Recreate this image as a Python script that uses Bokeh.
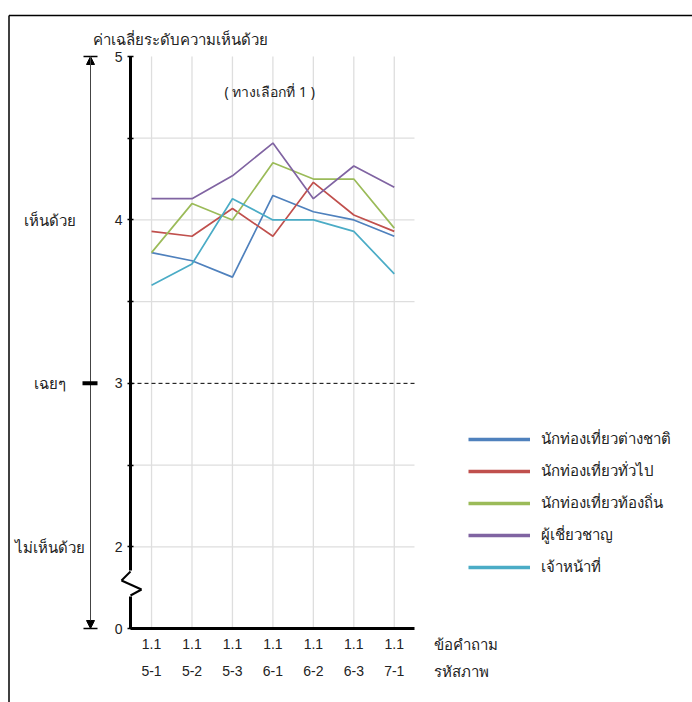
from bokeh.plotting import figure
from bokeh.models import (Range1d, LinearAxis, FixedTicker, Label, Arrow,
                          NormalHead, TeeHead, Legend, LegendItem)
from bokeh.embed import file_html
from bokeh.resources import INLINE

# ---------------- data ----------------
questions = ["1.1", "1.1", "1.1", "1.1", "1.1", "1.1", "1.1"]
codes = ["5-1", "5-2", "5-3", "6-1", "6-2", "6-3", "7-1"]
series_names = ["นักท่องเที่ยวต่างชาติ", "นักท่องเที่ยวทั่วไป", "นักท่องเที่ยวท้องถิ่น",
                "ผู้เชี่ยวชาญ", "เจ้าหน้าที่"]
foreign = [3.80, 3.75, 3.65, 4.15, 4.05, 4.00, 3.90]
general = [3.93, 3.90, 4.07, 3.90, 4.23, 4.03, 3.93]
local = [3.80, 4.10, 4.00, 4.35, 4.25, 4.25, 3.95]
expert = [4.13, 4.13, 4.27, 4.47, 4.13, 4.33, 4.20]
staff = [3.60, 3.73, 4.13, 4.00, 4.00, 3.93, 3.67]
series_colors = ["#4F81BD", "#C0504D", "#9BBB59", "#8064A2", "#4BACC6"]
y_ticks = [1.5, 2, 2.5, 3, 3.5, 4, 4.5, 5]
y_tick_labels = ["0", "2", "", "3", "", "4", "", "5"]
grid_y = [2, 2.5, 3.5, 4, 4.5]
neutral = 3
scale_labels = ["เห็นด้วย", "เฉยๆ", "ไม่เห็นด้วย"]
scale_values = [4, 3, 2]

THAI = "Noto Sans"
NUM = "Liberation Sans"
TXT = "#222222"

W, H = 692, 702
# plot-area placement (pixels) used to set the ranges
X0, X1 = -0.52, 6.5
Y0, Y1 = 1.5, 5.0
FL, FR, FT, FB = 130, 414, 56, 628
SX = (FR - FL) / (X1 - X0)
SY = (FB - FT) / (Y1 - Y0)


def px(v):
    return X0 + (v - FL) / SX


def py(v):
    return Y1 - (v - FT) / SY


x = list(range(len(codes)))
NAN = float("nan")

p = figure(width=W, height=H, title=None,
           x_range=Range1d(px(0), px(W)), y_range=Range1d(py(H), py(0)),
           output_backend="svg", toolbar_location=None,
           x_axis_type=None, y_axis_type=None, min_border=0)
p.outline_line_color = None
p.background_fill_color = "white"
p.border_fill_color = "white"
p.xgrid.visible = False
p.ygrid.visible = False

# grid lines inside the plot area
p.segment(x0=x, y0=[Y0] * len(x), x1=x, y1=[Y1] * len(x),
          line_color="#dedede", line_width=1.3)
p.segment(x0=[X0] * len(grid_y), y0=grid_y, x1=[X1] * len(grid_y), y1=grid_y,
          line_color="#dedede", line_width=1.3)
# dashed neutral line
p.segment(x0=[X0], y0=[neutral], x1=[X1], y1=[neutral],
          line_color="black", line_width=1, line_dash="4 3")

# axes
yaxis = LinearAxis(ticker=FixedTicker(ticks=y_ticks), fixed_location=X0, bounds=(Y0, Y1),
                   major_label_overrides={t: l for t, l in zip(y_ticks, y_tick_labels)},
                   axis_line_width=3, axis_line_color="black",
                   major_tick_in=3, major_tick_out=3, major_tick_line_width=1.5,
                   major_tick_line_color="black", minor_tick_line_color=None,
                   major_label_standoff=5, major_label_text_font=NUM,
                   major_label_text_font_size="14px", major_label_text_color=TXT)
p.add_layout(yaxis, "left")

xaxis1 = LinearAxis(ticker=FixedTicker(ticks=x), fixed_location=Y0, bounds=(X0, X1),
                    major_label_overrides={i: q for i, q in zip(x, questions)},
                    axis_line_width=3, axis_line_color="black",
                    major_tick_in=0, major_tick_out=0, minor_tick_line_color=None,
                    major_tick_line_color=None,
                    major_label_standoff=10, major_label_text_font=NUM,
                    major_label_text_font_size="14px", major_label_text_color=TXT)
xaxis2 = LinearAxis(ticker=FixedTicker(ticks=x), fixed_location=Y0, bounds=(X0, X1),
                    major_label_overrides={i: c for i, c in zip(x, codes)},
                    axis_line_color=None,
                    major_tick_in=0, major_tick_out=0, minor_tick_line_color=None,
                    major_tick_line_color=None,
                    major_label_standoff=37, major_label_text_font=NUM,
                    major_label_text_font_size="14px", major_label_text_color=TXT)
p.add_layout(xaxis1, "below")
p.add_layout(xaxis2, "below")

# series lines
all_series = [foreign, general, local, expert, staff]
items = []
for name, vals, col in zip(series_names, all_series, series_colors):
    p.line(x=x, y=vals, line_color=col, line_width=1.7)
    proxy = p.line(x=[NAN], y=[NAN], line_color=col, line_width=3.5)
    items.append(LegendItem(label=name, renderers=[proxy]))

legend = Legend(items=items, location=(468, 123), glyph_width=62, glyph_height=20,
                label_height=20, spacing=8, padding=0, margin=0, label_standoff=11,
                border_line_color=None, background_fill_alpha=0,
                label_text_font=THAI, label_text_font_size="15px", label_text_color=TXT)
p.add_layout(legend)

# texts
p.add_layout(Label(x=px(92), y=py(38), text="ค่าเฉลี่ยระดับความเห็นด้วย", text_align="left",
                   text_baseline="middle", text_font=THAI, text_font_size="15px",
                   text_color=TXT))
p.add_layout(Label(x=px(271), y=py(91), text="( ทางเลือกที่  1 )", text_align="center",
                   text_baseline="middle", text_font=THAI, text_font_size="14px",
                   text_color=TXT))
for lab, v in zip(scale_labels, scale_values):
    p.add_layout(Label(x=px(49), y=v, text=lab, text_align="center", text_baseline="middle",
                       text_font=THAI, text_font_size="15px", text_color=TXT))
p.add_layout(Label(x=px(433), y=py(643), text="ข้อคำถาม", text_align="left",
                   text_baseline="middle", text_font=THAI, text_font_size="15px",
                   text_color=TXT))
p.add_layout(Label(x=px(433), y=py(670), text="รหัสภาพ", text_align="left",
                   text_baseline="middle", text_font=THAI, text_font_size="15px",
                   text_color=TXT))

# scale arrows on the left
ax = px(90)
for ys, ye in [(Y0, Y1), (Y1, Y0)]:
    p.add_layout(Arrow(x_start=ax, y_start=ys, x_end=ax, y_end=ye,
                       start=TeeHead(size=14, line_width=1.5, line_color="black"),
                       end=NormalHead(size=8, fill_color="black", line_color="black"),
                       line_color="#444444", line_width=1))
p.add_layout(Arrow(x_start=px(82), y_start=neutral, x_end=px(97), y_end=neutral, end=None,
                   line_color="black", line_width=4))

# axis break
p.add_layout(Arrow(x_start=X0, y_start=py(570), x_end=X0, y_end=py(596), end=None,
                   line_color="white", line_width=7))
p.add_layout(Arrow(x_start=X0, y_start=py(571), x_end=px(121), y_end=py(580), end=None,
                   line_color="black", line_width=2))
p.add_layout(Arrow(x_start=px(121), y_start=py(580), x_end=px(141), y_end=py(589), end=None,
                   line_color="black", line_width=2))
p.add_layout(Arrow(x_start=px(141), y_start=py(589), x_end=X0, y_end=py(595), end=None,
                   line_color="black", line_width=2))

# page frame
p.add_layout(Arrow(x_start=px(8.5), y_start=py(15), x_end=px(W + 10), y_end=py(15), end=None,
                   line_color="black", line_width=1.5))
p.add_layout(Arrow(x_start=px(8.5), y_start=py(15), x_end=px(8.5), y_end=py(H + 10), end=None,
                   line_color="black", line_width=1.5))

open("out.html", "w").write(file_html(p, INLINE))
